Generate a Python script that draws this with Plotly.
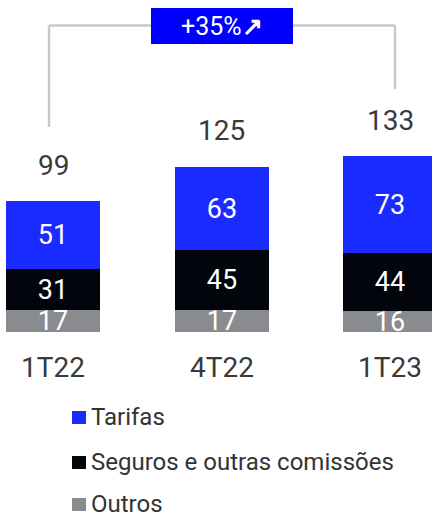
import plotly.graph_objects as go

categories = ["1T22", "4T22", "1T23"]
tarifas = [51, 63, 73]
seguros = [31, 45, 44]
outros = [17, 17, 16]
totals = [99, 125, 133]
series_names = ["Tarifas", "Seguros e outras comissões", "Outros"]
growth_label = "+35%<b>↗</b>"

W, H = 432, 517
FONT = "Roboto"
C_BLUE = "#1a2bff"
C_BLACK = "#03050c"
C_GRAY = "#8a8b8f"
C_TEXT = "#3a3a3a"

def px(x):
    return x / W

def py(y):
    return 1 - y / H

fig = go.Figure()
for name, vals, col in [(series_names[2], outros, C_GRAY),
                        (series_names[1], seguros, C_BLACK),
                        (series_names[0], tarifas, C_BLUE)]:
    fig.add_trace(go.Bar(
        x=categories, y=vals, name=name, marker=dict(color=col, line=dict(width=0)),
        width=0.558, text=[str(v) for v in vals], textposition="inside",
        insidetextanchor="middle", textangle=0,
        textfont=dict(color="white", size=27, family=FONT),
        showlegend=False, hoverinfo="skip"))

annotations = []
for c, t in zip(categories, totals):
    annotations.append(dict(x=c, y=t, xref="x", yref="y", text=str(t), showarrow=False,
                            yanchor="middle", yshift=36,
                            font=dict(size=28, color=C_TEXT, family=FONT)))
    annotations.append(dict(x=c, y=-26.5, xref="x", yref="y", text=c, showarrow=False,
                            yanchor="middle", font=dict(size=28, color=C_TEXT, family=FONT)))

# growth box text
annotations.append(dict(x=px(222), y=py(26), xref="paper", yref="paper", text=growth_label,
                        showarrow=False, xanchor="center", yanchor="middle",
                        font=dict(size=25, color="white", family=FONT)))

shapes = []
line_style = dict(color="#c8c8c8", width=2.5)
shapes.append(dict(type="line", xref="paper", yref="paper", x0=px(49), x1=px(49), y0=py(25.5), y1=py(127), line=line_style))
shapes.append(dict(type="line", xref="paper", yref="paper", x0=px(49), x1=px(151), y0=py(25.5), y1=py(25.5), line=line_style))
shapes.append(dict(type="line", xref="paper", yref="paper", x0=px(293), x1=px(395), y0=py(25.5), y1=py(25.5), line=line_style))
shapes.append(dict(type="line", xref="paper", yref="paper", x0=px(395), x1=px(395), y0=py(25.5), y1=py(89), line=line_style))
shapes.append(dict(type="rect", xref="paper", yref="paper", x0=px(151), x1=px(293), y0=py(8), y1=py(44),
                   fillcolor="#0000ff", line=dict(width=0), layer="below"))

# manual legend
legend_cols = [C_BLUE, C_BLACK, C_GRAY]
legend_y = [417, 462, 504]
for name, col, ly in zip(series_names, legend_cols, legend_y):
    shapes.append(dict(type="rect", xref="paper", yref="paper", x0=px(72), x1=px(86),
                       y0=py(ly - 6), y1=py(ly + 7), fillcolor=col, line=dict(width=0)))
    annotations.append(dict(x=px(90), y=py(ly), xref="paper", yref="paper", text=name,
                            showarrow=False, xanchor="left", yanchor="middle",
                            height=26, valign="middle", borderpad=0,
                            font=dict(size=24, color="#333333", family=FONT)))

fig.update_layout(
    width=W, height=H, margin=dict(l=0, r=0, t=0, b=0),
    paper_bgcolor="white", plot_bgcolor="white",
    barmode="stack", bargap=0,
    xaxis=dict(range=[-0.3145, 2.249], visible=False, fixedrange=True),
    yaxis=dict(range=[-139.8, 251], visible=False, fixedrange=True),
    uniformtext=dict(minsize=27, mode="show"),
    annotations=annotations, shapes=shapes,
    font=dict(family=FONT),
)

fig.write_html("out.html", config={"displayModeBar": False},
               post_script="document.body.style.margin='0';document.body.style.overflow='hidden';")
